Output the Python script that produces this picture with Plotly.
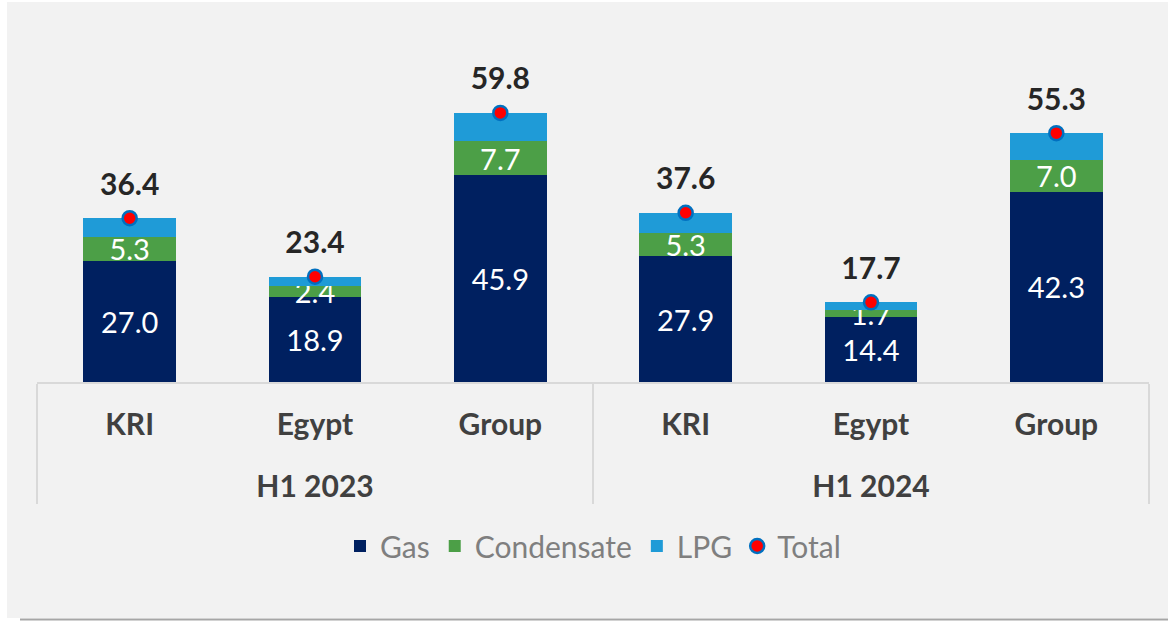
import plotly.graph_objects as go

periods = ["H1 2023", "H1 2023", "H1 2023", "H1 2024", "H1 2024", "H1 2024"]
regions = ["KRI", "Egypt", "Group", "KRI", "Egypt", "Group"]
gas = [27.0, 18.9, 45.9, 27.9, 14.4, 42.3]
condensate = [5.3, 2.4, 7.7, 5.3, 1.7, 7.0]
lpg = [4.1, 2.1, 6.2, 4.4, 1.6, 6.0]
total = [36.4, 23.4, 59.8, 37.6, 17.7, 55.3]

FONT = "Lato"
x = [["<br>" + p for p in periods], regions]

W, H = 1168, 621
ml, mr, mt, mb = 37, 19, 67, 239
pw, ph = W - ml - mr, H - mt - mb

def px_x(p):
    return (p - ml) / pw

def px_y(p):
    return (H - mb - p) / ph

fig = go.Figure()
fig.add_trace(go.Bar(
    x=x, y=gas, name="Gas", marker=dict(color="#002060", line=dict(width=0)),
    text=[f"{v:.1f}" for v in gas], textposition="inside", insidetextanchor="middle",
    textangle=0, constraintext="none",
    textfont=dict(family=FONT, size=29, color="white"), hoverinfo="skip"))
fig.add_trace(go.Bar(
    x=x, y=condensate, name="Condensate", marker=dict(color="#4C9F47", line=dict(width=0)),
    text=[f"{v:.1f}" for v in condensate], textposition="inside", insidetextanchor="middle",
    textangle=0, constraintext="none",
    textfont=dict(family=FONT, size=29, color="white"), hoverinfo="skip"))
fig.add_trace(go.Bar(
    x=x, y=lpg, name="LPG", marker=dict(color="#1F9BD7", line=dict(width=0)),
    hoverinfo="skip"))
fig.add_trace(go.Scatter(
    x=x, y=total, name="Total", mode="markers", cliponaxis=False,
    marker=dict(color="#FF0000", size=14, line=dict(color="#0070C0", width=2.5)),
    hoverinfo="skip"))
fig.add_trace(go.Scatter(
    x=x, y=total, mode="markers+text", showlegend=False, cliponaxis=False,
    marker=dict(color="rgba(0,0,0,0)", size=24),
    text=[f"{v:.1f}" for v in total], textposition="top center",
    textfont=dict(family=FONT, size=30, color="#262626", weight="bold"),
    hoverinfo="skip"))

fig.update_layout(
    width=W, height=H,
    margin=dict(l=ml, r=mr, t=mt, b=mb, autoexpand=False),
    paper_bgcolor="white", plot_bgcolor="rgba(0,0,0,0)",
    barmode="stack", bargap=0.5,
    showlegend=True,
    legend=dict(orientation="h", x=0.5, xanchor="center", y=px_y(546), yanchor="middle",
                traceorder="normal",
                font=dict(family=FONT, size=30, color="#7F7F7F"),
                bgcolor="rgba(0,0,0,0)", itemclick=False, itemdoubleclick=False),
    xaxis=dict(type="multicategory", showline=True, linecolor="#D9D9D9", linewidth=2,
               showgrid=False, ticks="", ticklabelstandoff=15, automargin=False,
               tickfont=dict(family=FONT, size=30, color="#404040", weight="bold"),
               showdividers=True, dividercolor="#D9D9D9", dividerwidth=2),
    yaxis=dict(range=[0, 70], visible=False, showgrid=False, zeroline=False),
    shapes=[
        dict(type="rect", xref="paper", yref="paper", layer="below",
             x0=px_x(7), x1=px_x(W), y0=px_y(618), y1=px_y(2),
             fillcolor="#F2F2F2", line=dict(width=0)),
        dict(type="line", xref="paper", yref="paper", layer="below",
             x0=px_x(20), x1=px_x(W), y0=px_y(619.5), y1=px_y(619.5),
             line=dict(color="#A6A6A6", width=2)),
    ],
)

fig.write_html("out.html", config={"displayModeBar": False},
               post_script="document.body.style.margin='0';")
